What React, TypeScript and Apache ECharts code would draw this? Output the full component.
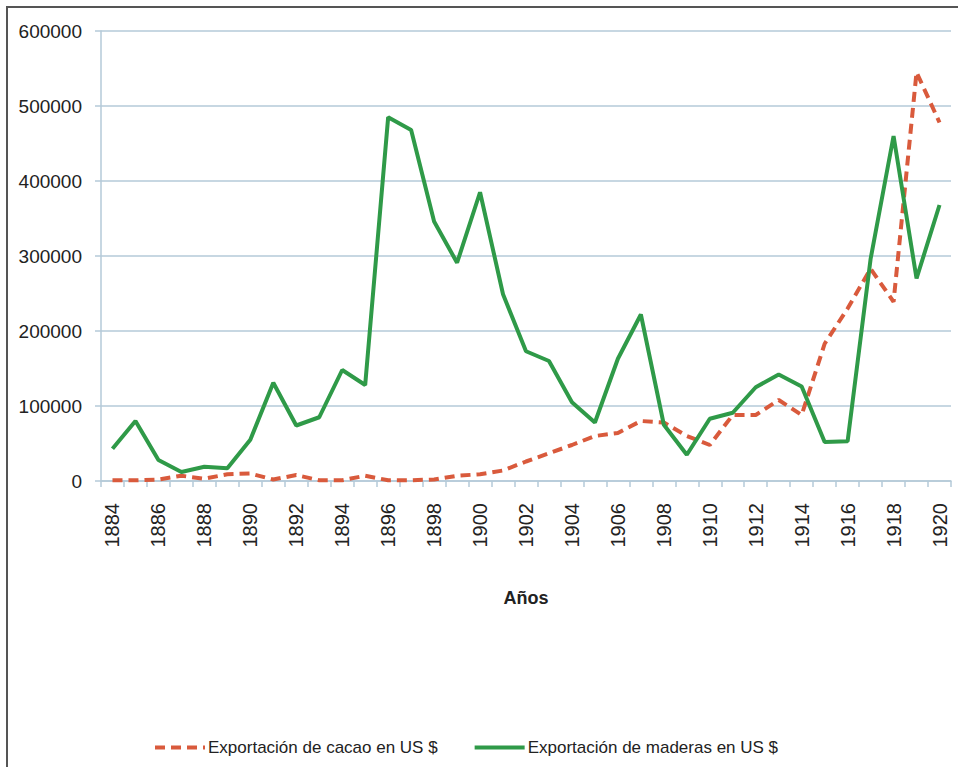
import React, { useEffect, useRef } from "react";
import * as echarts from "echarts";

const years = [
  "1884", "1885", "1886", "1887", "1888", "1889", "1890", "1891", "1892", "1893",
  "1894", "1895", "1896", "1897", "1898", "1899", "1900", "1901", "1902", "1903",
  "1904", "1905", "1906", "1907", "1908", "1909", "1910", "1911", "1912", "1913",
  "1914", "1915", "1916", "1917", "1918", "1919", "1920",
];

const cacao = [
  1000, 1000, 2000, 7000, 3000, 9000, 10000, 2000, 8000, 1000,
  1000, 7000, 1000, 1000, 2000, 7000, 9000, 14000, 26000, 37000,
  48000, 60000, 64000, 80000, 78000, 60000, 48000, 88000, 88000, 108000,
  88000, 183000, 230000, 283000, 239000, 545000, 478000,
];

const maderas = [
  43000, 80000, 28000, 12000, 19000, 17000, 55000, 131000, 74000, 85000,
  148000, 128000, 485000, 468000, 346000, 291000, 385000, 249000, 173000, 160000,
  105000, 78000, 163000, 222000, 75000, 35000, 83000, 91000, 125000, 142000,
  126000, 52000, 53000, 296000, 460000, 270000, 368000,
];

const seriesNames = ["Exportación de cacao en US $", "Exportación de maderas en US $"];
const xAxisTitle = "Años";

export default function App() {
  const ref = useRef<HTMLDivElement>(null);
  useEffect(() => {
    if (!ref.current) return;
    const chart = echarts.init(ref.current, undefined, { renderer: "svg" });
    const gridColor = "#b5cad8";
    chart.setOption({
      animation: false,
      backgroundColor: "#ffffff",
      textStyle: { fontFamily: "Liberation Sans" },
      graphic: [
        {
          type: "rect",
          shape: { x: 7, y: 7, width: 960, height: 780 },
          style: { fill: "none", stroke: "#555555", lineWidth: 2 },
          silent: true,
        },
      ],
      grid: { left: 101, right: 7, top: 31, bottom: 286, containLabel: false },
      legend: {
        left: 148,
        top: 734,
        itemWidth: 50,
        itemHeight: 14,
        itemGap: 35,
        itemStyle: { opacity: 0 },
        lineStyle: { width: 4 },
        textStyle: { fontSize: 17, color: "#222", fontFamily: "Liberation Sans", padding: [0, 0, 0, -2] },
        data: seriesNames,
      },
      xAxis: {
        type: "category",
        data: years,
        boundaryGap: true,
        name: xAxisTitle,
        nameLocation: "middle",
        nameGap: 108,
        nameTextStyle: { fontSize: 18, fontWeight: "bold", color: "#222" },
        axisLine: { lineStyle: { color: gridColor, width: 1.5 } },
        axisTick: { show: true, interval: 0, length: 6, lineStyle: { color: gridColor, width: 1.5 } },
        axisLabel: { interval: 1, rotate: 90, margin: 22, fontSize: 20, color: "#222" },
        splitLine: { show: false },
      },
      yAxis: {
        type: "value",
        min: 0,
        max: 600000,
        interval: 100000,
        axisLine: { show: true, lineStyle: { color: gridColor, width: 1.5 } },
        axisTick: { show: true, length: 6, lineStyle: { color: gridColor, width: 1.5 } },
        axisLabel: { margin: 19, fontSize: 19, color: "#222", formatter: (v: number) => String(v) },
        splitLine: { lineStyle: { color: gridColor, width: 1.5 } },
      },
      series: [
        {
          name: seriesNames[0],
          type: "line",
          data: cacao,
          symbol: "none",
          color: "#d95a3c",
          lineStyle: { color: "#d95a3c", width: 4, type: [10, 6] },
          z: 2,
        },
        {
          name: seriesNames[1],
          type: "line",
          data: maderas,
          symbol: "none",
          color: "#2f9a48",
          lineStyle: { color: "#2f9a48", width: 4 },
          z: 3,
        },
      ],
    });
    return () => chart.dispose();
  }, []);
  return (
    <div
      ref={ref}
      style={{ position: "fixed", left: 0, top: 0, width: 958, height: 767, background: "#fff" }}
    />
  );
}
